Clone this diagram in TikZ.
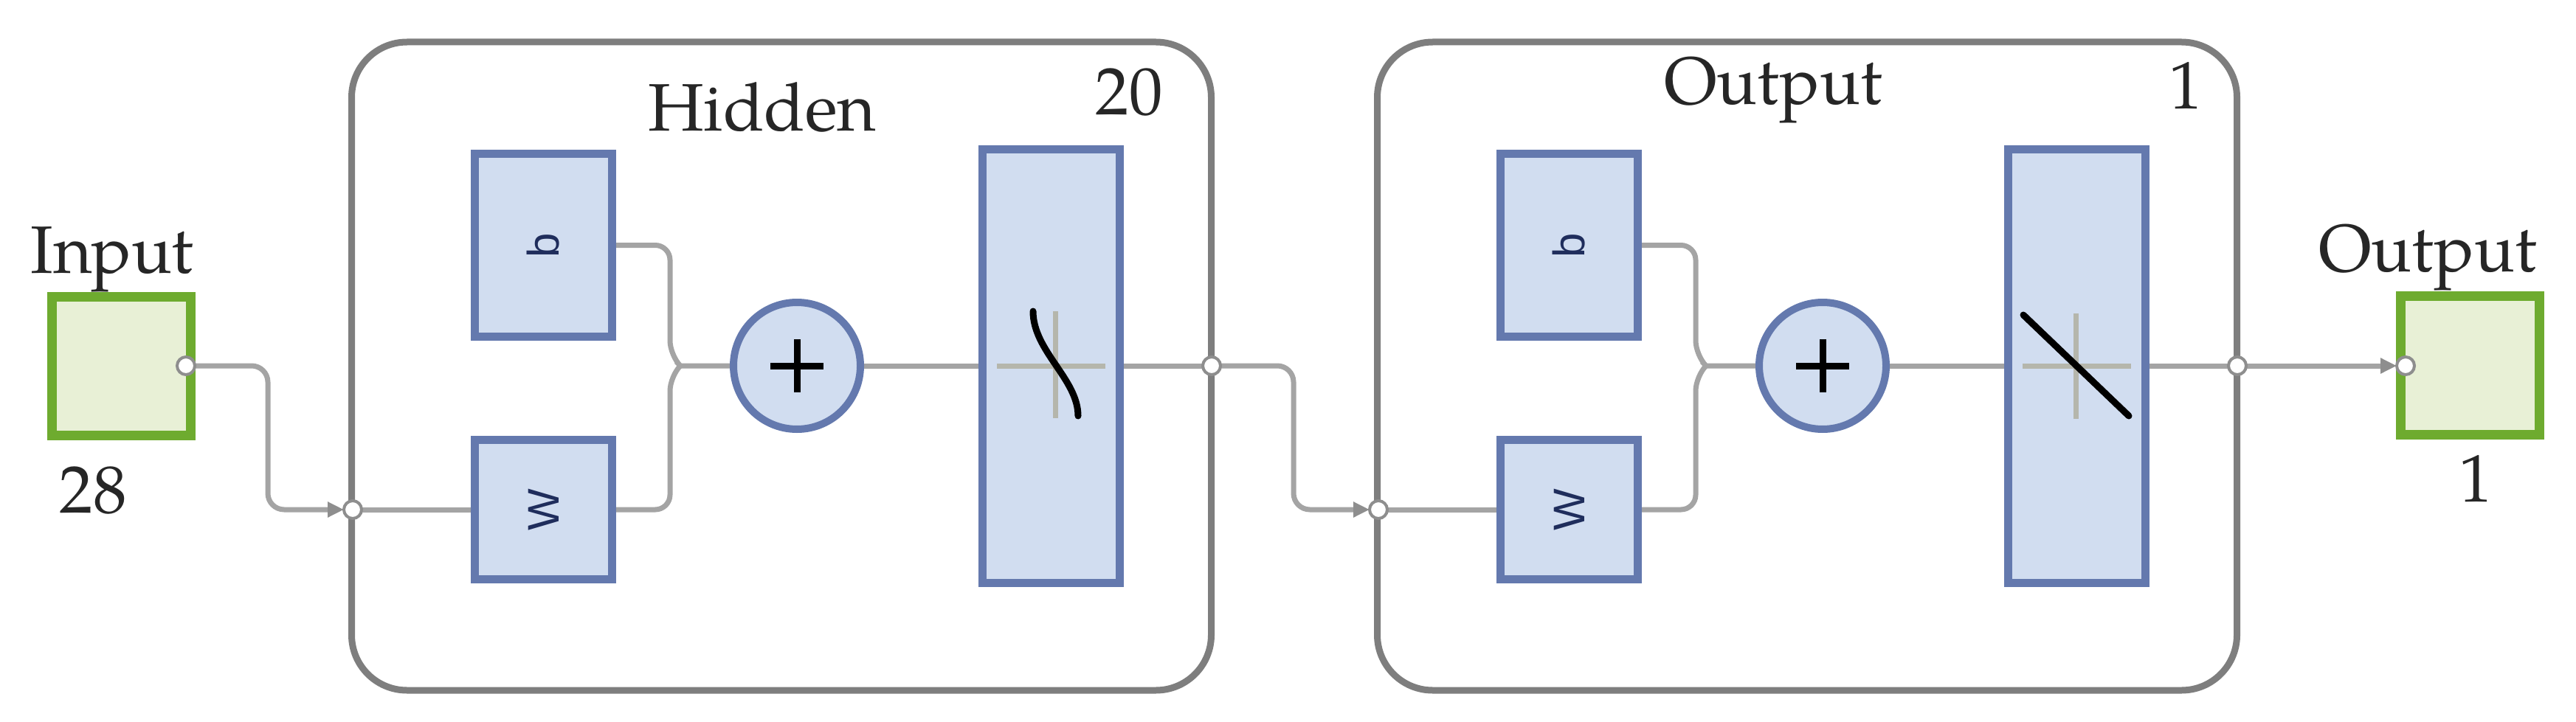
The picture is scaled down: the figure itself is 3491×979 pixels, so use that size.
\documentclass[tikz,border=0pt]{standalone}
\usepackage{fontspec}
\setmainfont{TeX Gyre Pagella}
\newfontfamily\lsans{Liberation Sans}
\usepackage{graphicx}
\usetikzlibrary{arrows.meta}
\pgfdeclarelayer{bg}
\pgfsetlayers{bg,main}
\definecolor{gfill}{HTML}{E8F0D6}
\definecolor{gline}{HTML}{6EAB2F}
\definecolor{bfill}{HTML}{D1DDF0}
\definecolor{bline}{HTML}{6479AE}
\definecolor{lline}{HTML}{7E7E7E}
\definecolor{cline}{HTML}{A4A4A4}
\definecolor{pline}{HTML}{8E8E8E}
\definecolor{xline}{HTML}{B5B6AC}
\definecolor{lbl}{HTML}{1F2D5C}
\definecolor{txt}{HTML}{262626}

\tikzset{
 every node/.style={inner sep=0pt, outer sep=0pt},
 iobox/.style={draw=gline, fill=gfill, line width=13pt, minimum width=188pt, minimum height=188pt},
 layerbox/.style={draw=lline, line width=9pt, rounded corners=75pt, minimum width=1165pt, minimum height=879pt},
 bluebox/.style={draw=bline, fill=bfill, line width=11pt, minimum width=186pt},
 sumnode/.style={circle, draw=bline, fill=bfill, line width=10pt, minimum size=172pt},
 port/.style={circle, draw=pline, fill=white, line width=4pt, minimum size=24pt},
 conn/.style={draw=cline, line width=7pt},
 arr/.style={-{Triangle[length=22pt,width=20pt,color=pline]}},
 bigtext/.style={font=\fontsize{91pt}{100pt}\selectfont, text=txt},
 wlabel/.style={font=\lsans\fontsize{60pt}{66pt}\selectfont, text=lbl},
 symcross/.style={draw=xline, line width=7pt},
 symcurve/.style={draw=black, line width=9pt, line cap=round},
 plusline/.style={draw=black, line width=9pt},
}

\newcommand{\nnlayer}[3]{%
\begin{scope}[xshift=#2]
 \node[layerbox] (#1box) at (1059,496.5) {};
 \node[bluebox, minimum height=248pt, wlabel] (#1b) at (736.5,332.5) {\rotatebox{90}{b}};
 \node[bluebox, minimum height=189pt, wlabel] (#1w) at (736.5,691) {\rotatebox{90}{W}};
 \node[sumnode] (#1sum) at (1080,496) {};
 \node[bluebox, minimum height=588pt] (#1act) at (1424.5,496) {};
 #3
 \draw[plusline] (#1sum.center) ++(-36,0) -- ++(72,0);
 \draw[plusline] (#1sum.center) ++(0,-36) -- ++(0,72);
 \node[port] (#1in) at (478,691) {};
 \node[port] (#1out) at (1642,496) {};
 \begin{pgfonlayer}{bg}
  \draw[conn] (#1in) -- (#1w);
  \draw[conn, rounded corners=20pt] (#1b.east) -- (908,332.5) -- (908,482) [sharp corners] -- (922,496) -- (#1sum.west);
  \draw[conn, rounded corners=20pt] (#1w.east) -- (908,691) -- (908,510) [sharp corners] -- (922,496);
  \draw[conn] (#1sum) -- (#1act);
  \draw[conn] (#1act) -- (#1out);
 \end{pgfonlayer}
\end{scope}}

\begin{document}
\begin{tikzpicture}[x=1pt, y=-1pt]
\useasboundingbox (0,0) rectangle (3491,979);

% input block
\node[iobox] (inbox) at (164,496) {};
\node[port] (inport) at (252,496) {};
\node[bigtext, anchor=base] (tin) at (152,370) {Input};
\node[bigtext, anchor=base] (t28) at (126,695) {28};

% hidden layer
\nnlayer{h}{0pt}{%
 \draw[symcross] (1351,496) -- (1498,496) (1430,422) -- (1430,567);
 \draw[symcurve] (1400,422) .. controls (1400,476) and (1461,514) .. (1461,564);
}
\node[bigtext, anchor=base] (thid) at (1033,178) {Hidden};
\node[bigtext, anchor=base] (t20) at (1530,156) {20};

% output layer
\nnlayer{o}{1390pt}{%
 \draw[symcross] (1351,496) -- (1498,496) (1423,425) -- (1423,568);
 \draw[symcurve] (1352,427) -- (1495,564);
}
\node[bigtext, anchor=base] (tout) at (2403,142) {Output};
\node[bigtext, anchor=base] (t1) at (2962,147) {1};

% output block
\node[iobox] (outbox) at (3347,495) {};
\node[port] (outport) at (3260,496) {};
\node[bigtext, anchor=base] (tout2) at (3290,368) {Output};
\node[bigtext, anchor=base] (t1b) at (3355,680) {1};

% connectors between blocks
\begin{pgfonlayer}{bg}
\draw[conn, arr, rounded corners=22pt] (inport) -- (363,496) -- (363,691) -- (hin);
\draw[conn, arr, rounded corners=22pt] (hout) -- (1753,496) -- (1753,691) -- (oin);
\draw[conn, arr] (oout) -- (outport);
\end{pgfonlayer}
\end{tikzpicture}
\end{document}
